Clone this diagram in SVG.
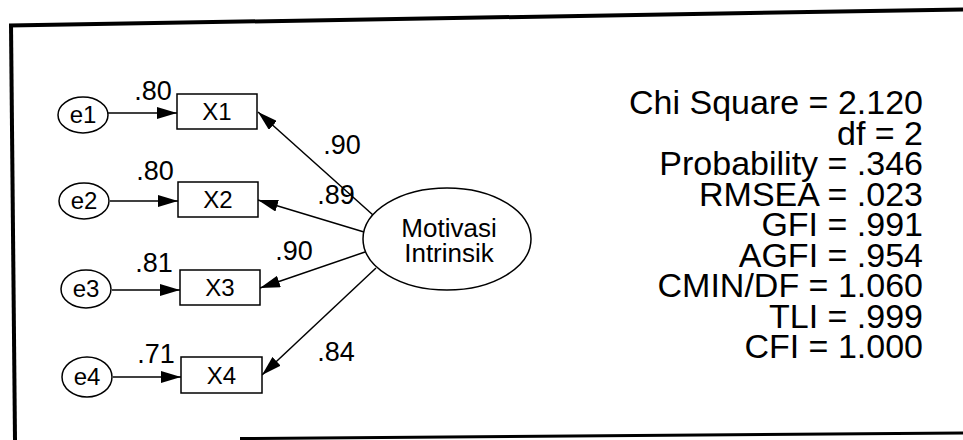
<svg xmlns="http://www.w3.org/2000/svg" width="963" height="440" viewBox="0 0 963 440">
<defs>
<marker id="ah" viewBox="0 0 20 12" refX="20" refY="6" markerWidth="20" markerHeight="12" markerUnits="userSpaceOnUse" orient="auto">
<path d="M0,0 L20,6 L0,12 z" fill="#000"/>
</marker>
</defs>
<style>
text{font-family:"Liberation Sans",Arial,sans-serif;fill:#000}
.node{fill:#fff;stroke:#000;stroke-width:1.5}
.lab{font-size:24px;text-anchor:middle}
.w{font-size:27px;text-anchor:middle}
.fit{font-size:34px;text-anchor:end}
.lat{font-size:26px;text-anchor:middle}
.c{stroke:#000;stroke-width:1.5;fill:none;marker-end:url(#ah)}
.b{stroke:#000;fill:none}
</style>
<rect width="963" height="440" fill="#fff"/>
<g id="frame">
<line class="b" x1="9" y1="25.5" x2="963" y2="9.5" stroke-width="4"/>
<line class="b" x1="11" y1="24" x2="15" y2="440" stroke-width="4"/>
<line class="b" x1="240" y1="438.5" x2="963" y2="433" stroke-width="3"/>
</g>
<g id="connectors">
<line class="c" x1="108" y1="113" x2="177" y2="113"/>
<line class="c" x1="110" y1="201" x2="178" y2="201"/>
<line class="c" x1="112" y1="290" x2="180" y2="290"/>
<line class="c" x1="113" y1="377" x2="181" y2="377"/>
<line class="c" x1="373" y1="215" x2="258" y2="112"/>
<line class="c" x1="364" y1="232" x2="258" y2="200"/>
<line class="c" x1="365" y1="252" x2="260" y2="288"/>
<line class="c" x1="376" y1="268" x2="262" y2="375"/>
</g>
<g id="e1"><ellipse class="node" cx="83" cy="115" rx="25" ry="18"/><text class="lab" x="83" y="123">e1</text></g>
<g id="e2"><ellipse class="node" cx="84" cy="201" rx="25" ry="18"/><text class="lab" x="84" y="209">e2</text></g>
<g id="e3"><ellipse class="node" cx="86" cy="289" rx="25" ry="19"/><text class="lab" x="86" y="297">e3</text></g>
<g id="e4"><ellipse class="node" cx="87" cy="377" rx="25" ry="20"/><text class="lab" x="87" y="385">e4</text></g>
<g id="X1"><rect class="node" x="177" y="94" width="80" height="35"/><text class="lab" x="217" y="120">X1</text></g>
<g id="X2"><rect class="node" x="178" y="182" width="80" height="35"/><text class="lab" x="218" y="208">X2</text></g>
<g id="X3"><rect class="node" x="180" y="270" width="80" height="35"/><text class="lab" x="220" y="296">X3</text></g>
<g id="X4"><rect class="node" x="181" y="357" width="81" height="36"/><text class="lab" x="221.5" y="384">X4</text></g>
<g id="motivasi"><ellipse class="node" cx="447" cy="239" rx="84" ry="51"/><text class="lat" x="449" y="237">Motivasi</text><text class="lat" x="449" y="262">Intrinsik</text></g>
<g id="weights">
<text class="w" x="153" y="100">.80</text>
<text class="w" x="155" y="180">.80</text>
<text class="w" x="154" y="272">.81</text>
<text class="w" x="156" y="363">.71</text>
<text class="w" x="342" y="154">.90</text>
<text class="w" x="336" y="204">.89</text>
<text class="w" x="294" y="260">.90</text>
<text class="w" x="336" y="361">.84</text>
</g>
<g id="fit">
<text class="fit" x="923" y="114">Chi Square = 2.120</text>
<text class="fit" x="923" y="144.5">df = 2</text>
<text class="fit" x="923" y="175">Probability = .346</text>
<text class="fit" x="923" y="205.5">RMSEA = .023</text>
<text class="fit" x="923" y="236">GFI = .991</text>
<text class="fit" x="923" y="266.5">AGFI = .954</text>
<text class="fit" x="923" y="297">CMIN/DF = 1.060</text>
<text class="fit" x="923" y="327.5">TLI = .999</text>
<text class="fit" x="923" y="358">CFI = 1.000</text>
</g>
</svg>
